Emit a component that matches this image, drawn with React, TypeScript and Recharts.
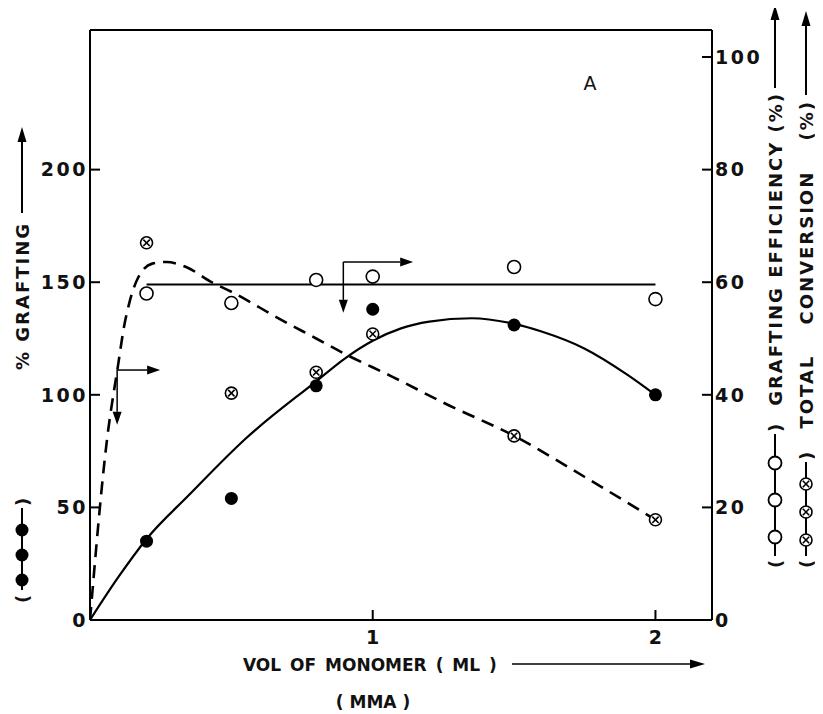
import {
  ComposedChart,
  Line,
  Scatter,
  XAxis,
  YAxis,
  ReferenceLine,
} from "recharts";

// measured points (vol of MMA, ml)
const volumes = [0.2, 0.5, 0.8, 1.0, 1.5, 2.0];
const graftingPct = [35, 54, 104, 138, 131, 100];
const graftingEff = [58, 56.3, 60.4, 61, 62.7, 57];
const totalConv = [67, 40.3, 44, 50.8, 32.7, 17.8];

// hand drawn curves through the points
const graftCurveX = [0, 0.1, 0.2, 0.35, 0.55, 0.8, 0.9, 1.0, 1.1, 1.2, 1.35, 1.5, 1.6, 1.75, 1.9, 2.0];
const graftCurveY = [0, 19, 36, 55.5, 80.5, 106, 116, 124, 129.5, 132.5, 134, 131.5, 128, 120.5, 109, 100];
const convCurveX = [0, 0.06, 0.1, 0.12, 0.14, 0.17, 0.22, 0.27, 0.34, 0.43, 0.5, 0.67, 0.8, 0.9, 1.07, 1.25, 1.5, 1.75, 2.0];
const convCurveY = [0, 32, 45.5, 52, 56.5, 60.8, 63.3, 63.6, 62.7, 60, 58.3, 53.5, 50, 47.3, 43.2, 38.6, 32.7, 25.4, 17.8];
const effLineX = [0.2, 2.0];
const effLineY = [59.6, 59.6];

const leftTicks = [0, 50, 100, 150, 200];
const rightTicks = [0, 20, 40, 60, 80, 100];
const xTicks = [1, 2];

const X_MAX = 2.2;
const LEFT_MAX = 262;
const RIGHT_MAX = 104.8;

const zip = (xs: number[], ys: number[]) => xs.map((x, i) => ({ x, y: ys[i] }));

const graftPts = zip(volumes, graftingPct);
const effPts = zip(volumes, graftingEff);
const convPts = zip(volumes, totalConv);
const graftCurve = zip(graftCurveX, graftCurveY);
const convCurve = zip(convCurveX, convCurveY);
const effLine = zip(effLineX, effLineY);

// anchors for the inward tick marks, placed through the scales
const leftTickPts = leftTicks.slice(1).map((v) => ({ x: 0, y: v }));
const rightTickPts = rightTicks.slice(1).map((v) => ({ x: X_MAX, y: v }));
const xTickPts = xTicks.map((v) => ({ x: v, y: 0 }));

const FONT = "'DejaVu Sans', sans-serif";
const INK = "#111";

const FilledDot = (p: any) => <circle cx={p.cx} cy={p.cy} r={6.5} fill="#000" />;
const OpenDot = (p: any) => (
  <circle cx={p.cx} cy={p.cy} r={6.5} fill="#fff" stroke="#000" strokeWidth={1.6} />
);
const CrossDot = (p: any) => {
  const { cx, cy } = p;
  const d = 3.2;
  return (
    <g>
      <circle cx={cx} cy={cy} r={6} fill="#fff" stroke="#000" strokeWidth={1.6} />
      <line x1={cx - d} y1={cy - d} x2={cx + d} y2={cy + d} stroke="#000" strokeWidth={1.6} />
      <line x1={cx - d} y1={cy + d} x2={cx + d} y2={cy - d} stroke="#000" strokeWidth={1.6} />
    </g>
  );
};

const LeftMark = (p: any) => <path d={`M${p.cx},${p.cy}h10`} stroke="#000" strokeWidth={2} fill="none" />;
const RightMark = (p: any) => <path d={`M${p.cx},${p.cy}h-10`} stroke="#000" strokeWidth={2} fill="none" />;
const BottomMark = (p: any) => <path d={`M${p.cx},${p.cy}v-10`} stroke="#000" strokeWidth={2} fill="none" />;

const tickFont = { fontFamily: FONT, fontSize: 19, fontWeight: 600, fill: INK };
const LeftTick = (p: any) => (
  <text x={p.x - 2} y={p.y} dy="0.36em" textAnchor="end" letterSpacing={2.5} {...tickFont}>
    {p.payload.value}
  </text>
);
const RightTick = (p: any) => (
  <text x={p.x + 3} y={p.y} dy="0.36em" textAnchor="start" letterSpacing={2.5} {...tickFont}>
    {p.payload.value}
  </text>
);
const BottomTick = (p: any) => (
  <text x={p.x} y={p.y + 24} textAnchor="middle" {...tickFont}>
    {p.payload.value}
  </text>
);

const ArrowShape = (p: any) => {
  const { x1, y1, x2, y2 } = p;
  const a = Math.atan2(y2 - y1, x2 - x1);
  const L = 13, W = 4.5;
  const bx = x2 - L * Math.cos(a);
  const by = y2 - L * Math.sin(a);
  const nx = -Math.sin(a) * W;
  const ny = Math.cos(a) * W;
  return (
    <g>
      <line x1={x1} y1={y1} x2={bx} y2={by} stroke="#000" strokeWidth={1.5} />
      <polygon points={`${x2},${y2} ${bx + nx},${by + ny} ${bx - nx},${by - ny}`} fill="#000" />
    </g>
  );
};

// pointer arrows (left-axis units)
const pointers = [
  { x: 0.096, y: 111, down: 86.7, right: 0.248 },
  { x: 0.896, y: 159, down: 136.4, right: 1.143 },
];

const upHead = (x: number, y: number) => (
  <polygon points={`${x},${y} ${x - 4.5},${y + 15} ${x + 4.5},${y + 15}`} fill="#000" />
);
const rightHead = (x: number, y: number) => (
  <polygon points={`${x},${y} ${x - 15},${y - 4.5} ${x - 15},${y + 4.5}`} fill="#000" />
);

// small vertical legend key: line with three markers
const Key = ({ x, y0, y1, ys, kind }: { x: number; y0: number; y1: number; ys: number[]; kind: string }) => (
  <g>
    <line x1={x} y1={y0} x2={x} y2={y1} stroke="#000" strokeWidth={2} />
    {ys.map((y, i) =>
      kind === "filled" ? (
        <circle key={i} cx={x} cy={y} r={6.5} fill="#000" />
      ) : kind === "open" ? (
        <circle key={i} cx={x} cy={y} r={6.5} fill="#fff" stroke="#000" strokeWidth={1.8} />
      ) : (
        <CrossDot key={i} cx={x} cy={y} />
      )
    )}
  </g>
);

const rot = (x: number, y: number) => `translate(${x},${y}) rotate(-90)`;

export default function App() {
  return (
    <ComposedChart
      width={815}
      height={706}
      margin={{ top: 22, right: 71, bottom: 64, left: 42 }}
    >
      <XAxis
        type="number"
        dataKey="x"
        domain={[0, X_MAX]}
        ticks={xTicks}
        tickSize={0}
        tickMargin={0}
        height={30}
        axisLine={{ stroke: "#000", strokeWidth: 2 }}
        tickLine={false}
        tick={BottomTick}
        allowDataOverflow
      />
      <YAxis
        yAxisId="left"
        domain={[0, LEFT_MAX]}
        ticks={leftTicks}
        width={40}
        tickSize={0}
        tickMargin={0}
        axisLine={{ stroke: "#000", strokeWidth: 2 }}
        tickLine={false}
        tick={LeftTick}
        allowDataOverflow
      />
      <YAxis
        yAxisId="right"
        orientation="right"
        domain={[0, RIGHT_MAX]}
        ticks={rightTicks}
        width={40}
        tickSize={0}
        tickMargin={0}
        axisLine={{ stroke: "#000", strokeWidth: 2 }}
        tickLine={false}
        tick={RightTick}
        allowDataOverflow
      />
      <ReferenceLine yAxisId="left" y={LEFT_MAX} stroke="#000" strokeWidth={2} />

      <Line
        yAxisId="right"
        data={effLine}
        dataKey="y"
        type="linear"
        stroke="#000"
        strokeWidth={2}
        dot={false}
        isAnimationActive={false}
      />
      <Line
        yAxisId="right"
        data={convCurve}
        dataKey="y"
        type="monotone"
        stroke="#000"
        strokeWidth={2.6}
        strokeDasharray="13 8"
        dot={false}
        isAnimationActive={false}
      />
      <Line
        yAxisId="left"
        data={graftCurve}
        dataKey="y"
        type="monotone"
        stroke="#000"
        strokeWidth={2.2}
        dot={false}
        isAnimationActive={false}
      />

      {pointers.map((p, i) => (
        <ReferenceLine
          key={`pd${i}`}
          yAxisId="left"
          ifOverflow="visible"
          segment={[{ x: p.x, y: p.y }, { x: p.x, y: p.down }]}
          shape={ArrowShape}
        />
      ))}
      {pointers.map((p, i) => (
        <ReferenceLine
          key={`pr${i}`}
          yAxisId="left"
          ifOverflow="visible"
          segment={[{ x: p.x, y: p.y }, { x: p.right, y: p.y }]}
          shape={ArrowShape}
        />
      ))}

      {/* inward tick marks */}
      <Scatter yAxisId="left" data={leftTickPts} dataKey="y" shape={LeftMark} isAnimationActive={false} />
      <Scatter yAxisId="right" data={rightTickPts} dataKey="y" shape={RightMark} isAnimationActive={false} />
      <Scatter yAxisId="left" data={xTickPts} dataKey="y" shape={BottomMark} isAnimationActive={false} />

      <Scatter yAxisId="left" data={graftPts} dataKey="y" shape={FilledDot} isAnimationActive={false} />
      <Scatter yAxisId="right" data={effPts} dataKey="y" shape={OpenDot} isAnimationActive={false} />
      <Scatter yAxisId="right" data={convPts} dataKey="y" shape={CrossDot} isAnimationActive={false} />

      {/* titles, drawn in page coordinates */}
      <g transform="translate(-8,-8)" fontFamily={FONT} fontSize={18} fontWeight={600} fill={INK}>
        <text x={590} y={90} textAnchor="middle" fontSize={19} fontWeight={400}>
          A
        </text>

        {/* left */}
        <text transform={rot(29, 603)}>(</text>
        <Key x={22} y0={590} y1={508} ys={[580, 555, 530]} kind="filled" />
        <text transform={rot(29, 506)}>)</text>
        <text transform={rot(29, 222)} textAnchor="end" letterSpacing={2}>
          % GRAFTING
        </text>
        <line x1={22} y1={213} x2={22} y2={140} stroke="#000" strokeWidth={2} />
        {upHead(22, 127)}

        {/* right: efficiency */}
        <text transform={rot(782, 568)}>(</text>
        <Key x={775} y0={556} y1={434} ys={[537, 500, 463]} kind="open" />
        <text transform={rot(782, 432)}>)</text>
        <text transform={rot(782, 92)} textAnchor="end" letterSpacing={2}>
          GRAFTING EFFICIENCY (%)
        </text>
        <line x1={775} y1={88} x2={775} y2={18} stroke="#000" strokeWidth={2} />
        {upHead(775, 5)}

        {/* right: conversion */}
        <text transform={rot(813, 568)}>(</text>
        <Key x={806} y0={556} y1={462} ys={[540, 512, 484]} kind="cross" />
        <text transform={rot(813, 460)}>)</text>
        <text transform={rot(813, 100)} textAnchor="end" letterSpacing={2} wordSpacing={22}>
          TOTAL CONVERSION (%)
        </text>
        <line x1={806} y1={95} x2={806} y2={24} stroke="#000" strokeWidth={2} />
        {upHead(806, 11)}

        {/* bottom */}
        <text x={243} y={671} fontSize={17} wordSpacing={3}>
          VOL OF MONOMER ( ML )
        </text>
        <line x1={512} y1={664} x2={690} y2={664} stroke="#000" strokeWidth={1.6} />
        {rightHead(705, 664)}
        <text x={373} y={708} textAnchor="middle" fontSize={17}>
          ( MMA )
        </text>
      </g>
    </ComposedChart>
  );
}
